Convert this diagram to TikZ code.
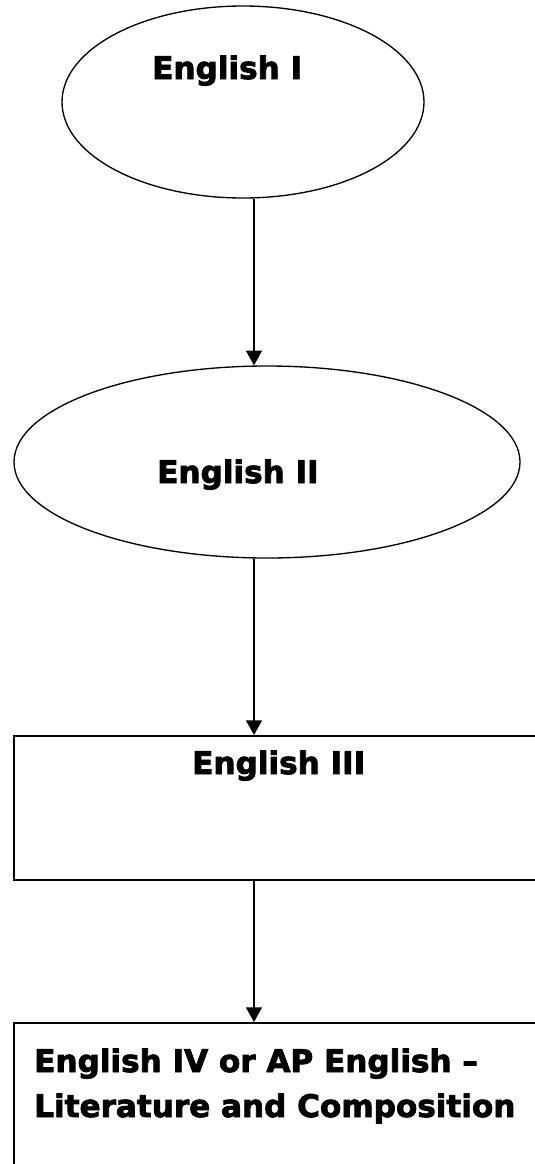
\documentclass[tikz,border=0pt]{standalone}
\usepackage{fontspec}
\setmainfont{DejaVu Sans}[BoldFeatures={FakeBold=2.6}]
\usetikzlibrary{shapes.geometric,arrows.meta}
\begin{document}
\begin{tikzpicture}[x=0.75pt,y=-0.75pt,
        course/.style={font=\fontsize{23.3}{33.75}\selectfont\bfseries,inner sep=0pt,anchor=base west},
        oval/.style={draw,ellipse,line width=1pt,inner sep=0pt,minimum height=144pt},
        box/.style={draw,rectangle,line width=1.4pt,inner sep=0pt,anchor=north west,minimum width=410pt},
        flow/.style={line width=1pt,-{Triangle[length=11pt,width=12pt]}}]
            \useasboundingbox (0,0) rectangle (535,1164);
            \coordinate (spine) at (254,0);
            %\draw[dashed] (0,0) rectangle (535,1164);
            \node[oval,minimum width=271.5pt] at (243,102)(eng1){};
            \node[oval,minimum width=379.5pt] at (267,462)(eng2){};
            \node[box,minimum height=108pt] at (13,735)(eng3){};
            \node[box,minimum height=150pt] at (13,1022)(eng4){};
            \node[course] at (152,79)(eng1txt){English I};
            \node[course] at (157,483)(eng2txt){English II};
            \node[course] at (192,774)(eng3txt){English III};
            \node[course] at (34,1072)(eng4txt){English IV or AP English --};
            \node[course] at (34,1117)(eng4sub){Literature and Composition};
            \path[draw,flow] (eng1.south -| spine) -- (eng2.north -| spine);
            \path[draw,flow] (eng2.south -| spine) -- (eng3.north -| spine);
            \path[draw,flow] (eng3.south -| spine) -- (eng4.north -| spine);
        \end{tikzpicture}
\end{document}
